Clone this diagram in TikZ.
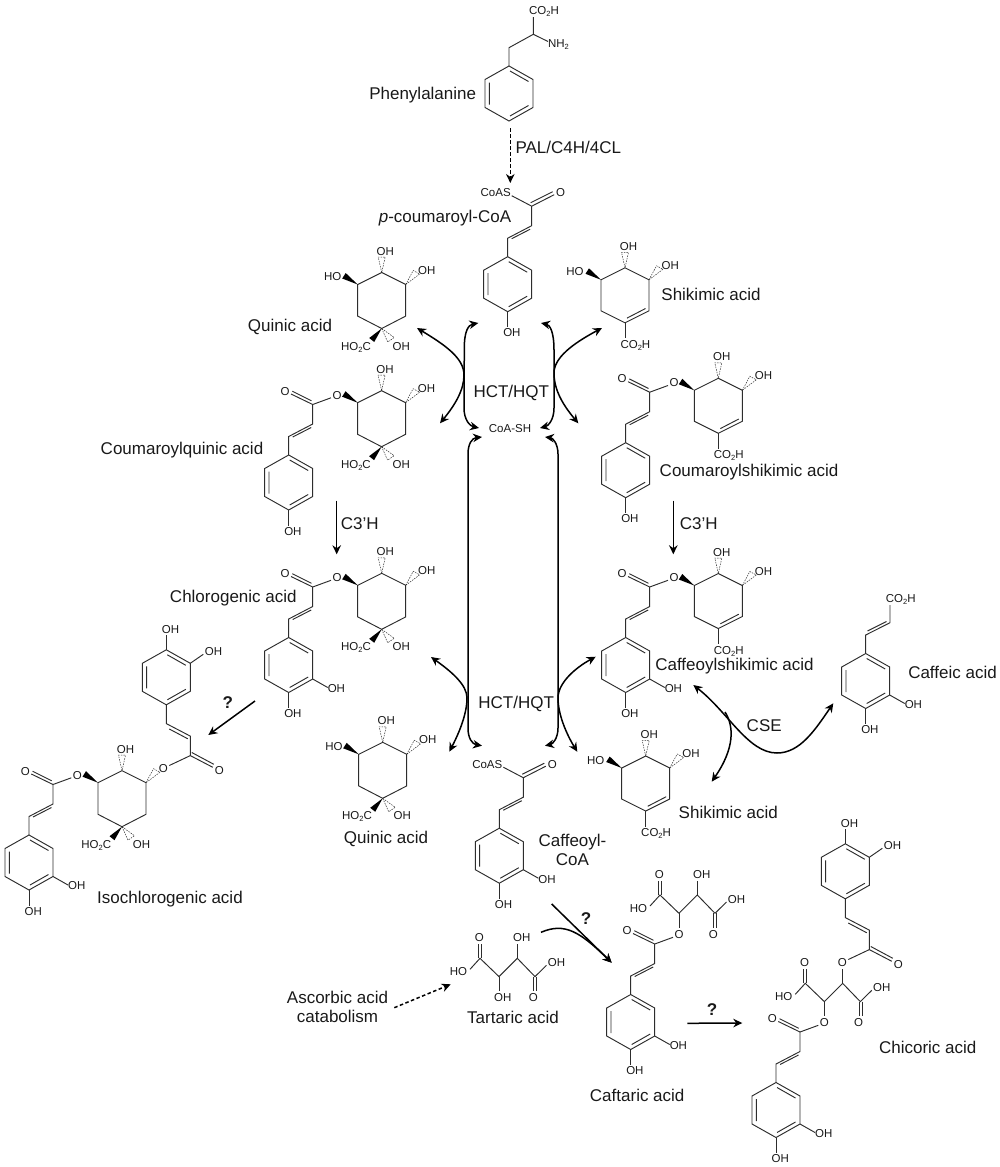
\documentclass[tikz,border=0pt]{standalone}
\usepackage{fontspec}
\setmainfont{Liberation Sans}
\usetikzlibrary{arrows.meta}
\definecolor{Ink}{RGB}{25,25,25}
\definecolor{Bond}{RGB}{45,45,45}
\newcommand{\atomfont}{\fontsize{11.5}{13}\selectfont}
\newcommand{\namefont}{\fontsize{17}{18.5}\selectfont}
\newcommand{\subtwo}{\raisebox{-2pt}{\fontsize{7.5}{8}\selectfont 2}}
\tikzset{
  bond/.style={line width=0.95pt,draw=Bond},
  atom/.style={font=\atomfont,text=Ink,inner sep=0pt,text height=8pt,text depth=0pt},
  molname/.style={font=\namefont,text=Ink,inner sep=0pt,text height=13pt,text depth=2pt},
  twolines/.style={font=\namefont,text=Ink,inner sep=0pt,align=center},
  query/.style={font=\namefont\bfseries,text=Ink,inner sep=0pt},
  solidwedge/.style={fill=black},
  hashwedge/.style={draw=Bond,line width=0.5pt,dash pattern=on 1.5pt off 1.1pt},
  flow/.style={-{Stealth[length=9pt,width=8.5pt]},line width=1.5pt,draw=black},
  twoway/.style={{Stealth[length=9pt,width=8.5pt]}-{Stealth[length=9pt,width=8.5pt]},line width=1.5pt,draw=black},
  dashflow/.style={flow,dash pattern=on 3.5pt off 2.5pt},
  benzene/.pic={
    \draw[bond] (0,-27.5)--(24,-14)--(24,14)--(0,27.5)--(-24,14)--(-24,-14)--cycle;
    \draw[bond] (1,-22.5)--(19.5,-12) (-19.7,-11)--(-19.7,11) (1,22.5)--(19.5,12);
  },
  phenol/.pic={
    \pic (ring) at (0,0) {benzene};
    \draw[bond] (0,27.5)--(0,43);
    \node[atom] (paraoh) at (4.2,48.5) {OH};
  },
  catechol/.pic={
    \pic (ph) at (0,0) {phenol};
    \draw[bond] (24,14)--(39,22.5);
    \node[atom] (metaoh) at (47.7,23.3) {OH};
  },
  styryl/.pic={
    \draw[bond] (0,0)--(0,19.5)--(-24,32)--(-24,50.5);
    \draw[bond] (-1.5,23)--(-20,32.5);
    \pic (aryl) at (-24,78) {#1};
  },
  ester/.pic={
    \node[atom] (ether) at (0,0) {O};
    \node[atom] (carbonyl) at (-52,-4) {O};
    \draw[bond] (-6,2.8)--(-24.3,9.5)--(-46,-1);
    \draw[bond] (-25.5,5.8)--(-44.7,-3.8);
    \pic (chain) at (-24.3,9.5) {styryl=#1};
  },
  upester/.pic={
    \node[atom] (ether) at (0,0) {O};
    \node[atom] (carbonyl) at (56,1.8) {O};
    \draw[bond] (6,-2.8)--(27,-12.7)--(49.5,-1);
    \draw[bond] (28.5,-15.8)--(50.5,-4);
    \draw[bond] (27,-12.7)--(27,-32.2)--(3,-44.7)--(3,-63.5);
    \draw[bond] (24.5,-29.5)--(6,-39.3);
    \pic (ring) at (3,-91) {benzene};
    \draw[bond] (3,-118.5)--(3,-133);
    \node[atom] (paraoh) at (7.3,-139) {OH};
    \draw[bond] (27,-105)--(40,-114);
    \node[atom] (metaoh) at (50.3,-117.3) {OH};
  },
  thioester/.pic={
    \node[atom] (coas) at (-36,-13.5) {CoAS};
    \node[atom] (carbonyl) at (29,-13.5) {O};
    \draw[bond] (-20,-10.5)--(0,0)--(22.5,-11.5);
    \draw[bond] (-1,-3.5)--(21,-14.5);
    \pic (chain) at (0,0) {styryl=#1};
  },
  quinatecore/.pic={
    \draw[bond] (0,-28)--(24,-16)--(24,15.6)--(0,28)--(-24,15.6)--(-24,-16)--cycle;
    \draw[hashwedge] (0,-28)--(-3.5,-43.5)--(3.5,-43.5)--cycle;
    \draw[hashwedge] (24,-16)--(31.5,-30)--(38,-26.5)--cycle;
    \fill[solidwedge] (-24,-16)--(-39.5,-22)--(-36,-27.5)--cycle;
    \fill[solidwedge] (0,28)--(-12.5,37.5)--(-7.5,41.5)--cycle;
    \draw[hashwedge] (0,28)--(6,41.5)--(12.5,37)--cycle;
    \node[atom] (topoh) at (3.5,-49.5) {OH};
    \node[atom] (carboxyl) at (-25.7,45.6) {HO\subtwo C};
    \node[atom] (lowoh) at (19.6,45.6) {OH};
  },
  quinate/.pic={
    \pic (core) at (0,0) {quinatecore};
    \node[atom] (rightoh) at (45,-30.5) {OH};
  },
  shikimate/.pic={
    \draw[bond] (0,-27.5)--(24,-15.5)--(24,15.5)--(0,27.5)--(-24,15.5)--(-24,-15.5)--cycle;
    \draw[bond] (2,22.8)--(20.5,13.2);
    \draw[hashwedge] (0,-27.5)--(-3.5,-43)--(3.5,-43)--cycle;
    \draw[hashwedge] (24,-15.5)--(31.5,-29.5)--(38,-26)--cycle;
    \fill[solidwedge] (-24,-15.5)--(-39.5,-21.5)--(-36,-27)--cycle;
    \draw[bond] (0,27.5)--(0,43);
    \node[atom] (topoh) at (3.5,-49) {OH};
    \node[atom] (rightoh) at (45.3,-30) {OH};
    \node[atom] (carboxyl) at (10.4,49) {CO\subtwo H};
  },
  tartrate/.pic={
    \draw[bond] (-10,11)--(0,0)--(19,18.3)--(37.3,0)--(55,18.3)--(66.5,7);
    \draw[bond] (-1.5,0)--(-1.5,-14.5) (1.5,0)--(1.5,-14.5);
    \draw[bond] (53.7,18.3)--(53.7,33) (56.7,18.3)--(56.7,33);
    \draw[bond] (19,18.3)--(19,33) (37.3,0)--(37.3,-14.5);
    \node[atom] (acido) at (-0.7,-21) {O};
    \node[atom] (acidho) at (-21.5,13.4) {HO};
    \node[atom] (acidoh) at (76.5,4.4) {OH};
    \node[atom] (lowo) at (53.3,39) {O};
  }
}
\begin{document}
\begin{tikzpicture}[x=1pt,y=-1pt]
\path[use as bounding box] (0,0) rectangle (1000,1167);
% phenylalanine and p-coumaroyl-CoA
\pic (phering) at (509,93.5) {benzene};
\draw[bond] (509,66)--(509,47.7)--(533.3,34.3)--(533.3,17) (533.3,34.3)--(548,41.5);
\node[atom] (phecooh) at (544,10.7) {CO\subtwo H};
\node[atom] (phenh) at (558.5,43) {NH\subtwo};
\pic (pcoa) at (531.7,206.2) {thioester=phenol};
% upper row
\pic (qa) at (381.7,300.5) {quinate};
\node[atom] (qaho) at (332.7,276.5) {HO};
\pic (sa) at (625,295.3) {shikimate};
\node[atom] (saho) at (575,271.7) {HO};
\pic (cqa) at (381.6,418.7) {quinate};
\pic (cqaacyl) at (337,395) {ester=phenol};
\pic (csa) at (718.3,405.8) {shikimate};
\pic (csaacyl) at (674,382.7) {ester=phenol};
\pic (cga) at (381.7,601.3) {quinate};
\pic (cgaacyl) at (337,577.5) {ester=catechol};
\pic (cfs) at (718.3,601) {shikimate};
\pic (cfsacyl) at (674,577.5) {ester=catechol};
% caffeic acid
\pic (cafring) at (865.7,681) {catechol};
\draw[bond] (865.7,653.5)--(865.7,635)--(890,622.7)--(890,605) (867.5,631)--(886.5,621.5);
\node[atom] (cafcooh) at (900.7,598.3) {CO\subtwo H};
% lower row
\pic (qb) at (382.7,770.3) {quinate};
\node[atom] (qbho) at (334,746) {HO};
\pic (sb) at (645.7,783.5) {shikimate};
\node[atom] (sbho) at (595.7,760) {HO};
\pic (ccoa) at (523.3,777.7) {thioester=catechol};
\pic (iso) at (122,798.7) {quinatecore};
\pic (isoacyl) at (77.3,775) {ester=catechol};
\pic (isoup) at (163.3,768.3) {upester};
% tartaric, caftaric and chicoric acids
\pic (ta) at (480,958.3) {tartrate};
\node[atom] (talow) at (502.7,997.7) {OH};
\node[atom] (taup) at (521.7,937.7) {OH};
\pic (cta) at (660,895) {tartrate};
\node[atom] (ctaup) at (701.7,874) {OH};
\pic (ctaacyl) at (679,934.5) {ester=catechol};
\pic (cha) at (805.3,983.3) {tartrate};
\pic (chaacyl) at (824.3,1022.5) {ester=catechol};
\pic (chaup) at (842.3,962.3) {upester};
% names
\node[molname] (phename) at (422.7,93.5) {Phenylalanine};
\node[molname] (palname) at (568.3,148.3) {PAL/C4H/4CL};
\node[molname] (pcoaname) at (445,216.7) {\emph{p}-coumaroyl-CoA};
\node[molname] (qaname) at (290,326) {Quinic acid};
\node[molname] (saname) at (711,295) {Shikimic acid};
\node[molname] (hctup) at (511.3,391.7) {HCT/HQT};
\node[atom] (coash) at (510,428.3) {CoA-SH};
\node[molname] (cqaname) at (182,449) {Coumaroylquinic acid};
\node[molname] (cshname) at (749,471) {Coumaroylshikimic acid};
\node[molname] (c3left) at (359.7,523.7) {C3’H};
\node[molname] (c3right) at (698.7,523.7) {C3’H};
\node[molname] (cganame) at (233.3,596.7) {Chlorogenic acid};
\node[molname] (cfsname) at (734.5,665) {Caffeoylshikimic acid};
\node[molname] (cafname) at (952.5,672.7) {Caffeic acid};
\node[molname] (hctlow) at (516.2,703.3) {HCT/HQT};
\node[molname] (csename) at (764.2,725.7) {CSE};
\node[query] (qiso) at (227.7,702.3) {?};
\node[molname] (sbname) at (728.3,812.7) {Shikimic acid};
\node[molname] (qbname) at (386,837.7) {Quinic acid};
\node[twolines] (ccoaname) at (572.5,850) {Caffeoyl-\\CoA};
\node[molname] (isoname) at (170,898.3) {Isochlorogenic acid};
\node[query] (qcaft) at (586,918.3) {?};
\node[twolines] (ascname) at (337.5,1007) {Ascorbic acid\\catabolism};
\node[molname] (taname) at (513,1017.7) {Tartaric acid};
\node[query] (qchic) at (712,1010) {?};
\node[molname] (chaname) at (927.7,1048.3) {Chicoric acid};
\node[molname] (ctaname) at (637.2,1095.7) {Caftaric acid};
% arrow ends
\coordinate (pheout) at (510.3,128.3);
\coordinate (pcoain) at (510.3,183);
\coordinate (pcoal) at (478.3,323);
\coordinate (pcoar) at (541,323);
\coordinate (coashl) at (479,428);
\coordinate (coashr) at (540,428);
\coordinate (coashll) at (482,437);
\coordinate (coashrr) at (545,437);
\coordinate (ccoal) at (482,745.7);
\coordinate (ccoar) at (545,745.7);
\coordinate (qaend) at (417,328);
\coordinate (cqaend) at (440,423.3);
\coordinate (saend) at (602,328);
\coordinate (csaend) at (578.3,423.3);
\coordinate (cgaend) at (431,657);
\coordinate (qbend) at (449.3,751.7);
\coordinate (cfsend) at (595.7,656.7);
\coordinate (sbend) at (577.3,751.7);
\coordinate (csecfs) at (693.3,685);
\coordinate (csecaf) at (833.3,703.3);
\coordinate (csefork) at (725,712);
\coordinate (cseshik) at (711.7,781.7);
\coordinate (c3lup) at (336.7,500.7);
\coordinate (c3ldn) at (336.7,554.3);
\coordinate (c3rup) at (673.3,500.7);
\coordinate (c3rdn) at (673.3,554.3);
\coordinate (isofrom) at (255,701);
\coordinate (isoto) at (208.3,735);
\coordinate (caftfrom) at (551.7,904);
\coordinate (caftto) at (611.7,962.7);
\coordinate (tafrom) at (541,932.3);
\coordinate (ascfrom) at (394.3,1007.7);
\coordinate (ascto) at (450.7,984.3);
\coordinate (chicfrom) at (687.3,1023.3);
\coordinate (chicto) at (742.3,1023);
% arrows
\draw[dashflow] (pheout)--(pcoain);
\draw[twoway] (pcoal) .. controls (468,325) and (464,332) .. ++(-14,27) -- (464,408) .. controls (464,420) and (470,426) .. (coashl);
\draw[twoway] (pcoar) .. controls (550,325) and (554,332) .. ++(13,27) -- (554,408) .. controls (554,420) and (548,426) .. (coashr);
\draw[twoway] (qaend) .. controls (445,345) and (464,358) .. (464,375) .. controls (464,390) and (455,405) .. (cqaend);
\draw[twoway] (saend) .. controls (572,344) and (554,358) .. (554,373) .. controls (554,390) and (563,405) .. (csaend);
\draw[twoway] (coashll) .. controls (472,438) and (468,444) .. (468,454) -- (468,728) .. controls (468,738) and (472,744) .. (ccoal);
\draw[twoway] (coashrr) .. controls (553,438) and (558,444) .. (558,454) -- (558,728) .. controls (558,738) and (553,744) .. (ccoar);
\draw[twoway] (cgaend) .. controls (452,672) and (467,685) .. (467,698) .. controls (467,715) and (458,735) .. (qbend);
\draw[twoway] (cfsend) .. controls (575,668) and (558,683) .. (558,698) .. controls (558,715) and (567,735) .. (sbend);
\draw[twoway] (csecfs) .. controls (728,712) and (748,753) .. (777,753) .. controls (800,753) and (815,730) .. (csecaf);
\draw[flow] (csefork) .. controls (734,726) and (735,748) .. (cseshik);
\draw[flow] (c3lup)--(c3ldn);
\draw[flow] (c3rup)--(c3rdn);
\draw[flow] (isofrom)--(isoto);
\draw[flow] (caftfrom)--(caftto);
\draw[flow] (tafrom) .. controls (565,922) and (580,932) .. (caftto);
\draw[dashflow] (ascfrom)--(ascto);
\draw[flow] (chicfrom)--(chicto);
\end{tikzpicture}
\end{document}
